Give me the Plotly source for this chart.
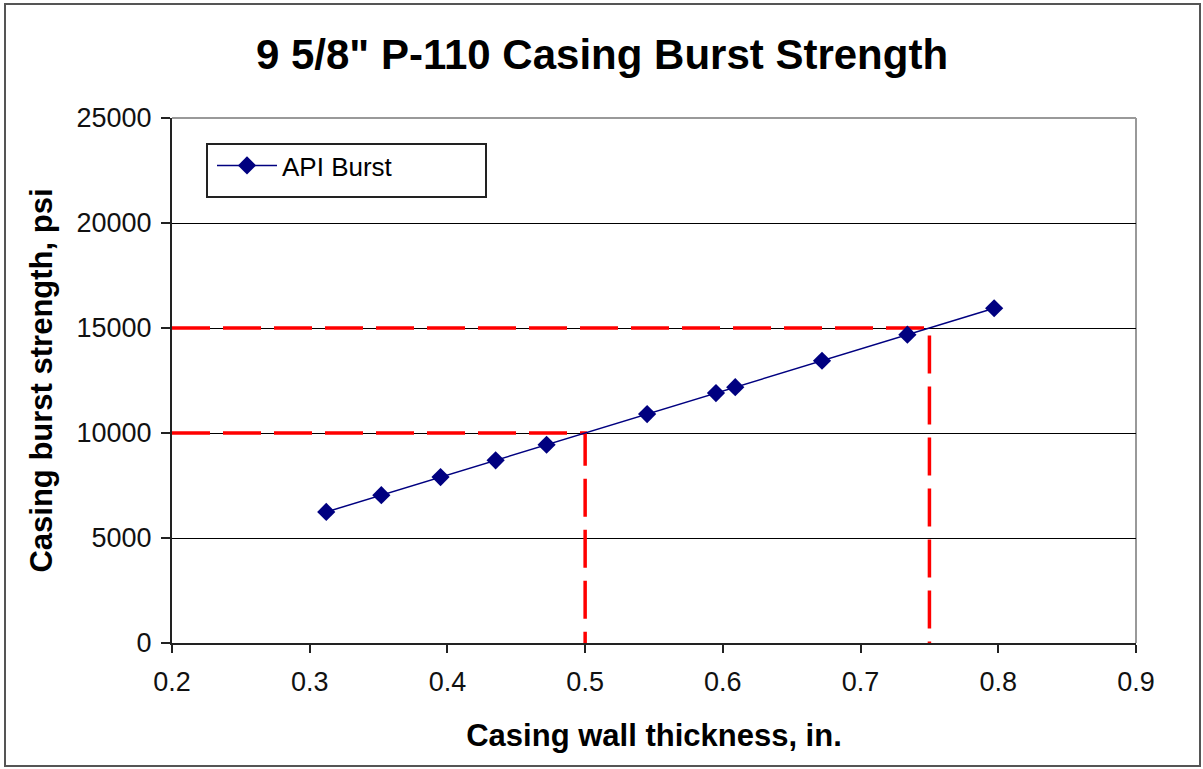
import plotly.graph_objects as go

# Data
wall_thickness = [0.312, 0.352, 0.395, 0.435, 0.472, 0.545, 0.595, 0.609, 0.672, 0.734, 0.797]
burst_psi = [6240, 7040, 7900, 8700, 9440, 10900, 11900, 12180, 13440, 14680, 15940]

# reference guide lines (thickness, burst)
guide_low = (0.5, 10000)
guide_high = (0.75, 15000)

x_ticks = [0.2, 0.3, 0.4, 0.5, 0.6, 0.7, 0.8, 0.9]
y_ticks = [0, 5000, 10000, 15000, 20000, 25000]

fig = go.Figure()

red = dict(color="#FF0000", width=3.5, dash="38px,13px")
for gx, gy in (guide_low, guide_high):
    fig.add_trace(go.Scatter(x=[0.2, gx, gx], y=[gy, gy, 0], mode="lines",
                             line=red, showlegend=False, hoverinfo="skip"))

fig.add_trace(go.Scatter(
    x=wall_thickness, y=burst_psi, mode="lines+markers", name="API Burst",
    line=dict(color="#000080", width=1.5),
    marker=dict(symbol="diamond", size=14, color="#000080"),
))

L, R, T, B = 172, 67, 118, 126
W, H = 1203, 769
pw, ph = W - L - R, H - T - B

def px(xp):
    return (xp - L) / pw

def py(yp):
    return (H - B - yp) / ph

fig.update_layout(
    width=W, height=H,
    margin=dict(l=L, r=R, t=T, b=B),
    paper_bgcolor="white", plot_bgcolor="white",
    font=dict(family="Liberation Sans, Arial, sans-serif", color="#111111"),
    title=dict(text="<b>9 5/8\" P-110 Casing Burst Strength</b>",
               x=px(602), xref="paper", xanchor="center", y=1 - 54 / H, yanchor="middle",
               font=dict(size=42, color="#000000")),
    showlegend=True,
    legend=dict(x=px(212), y=py(142), xanchor="left", yanchor="top",
                bgcolor="rgba(0,0,0,0)", borderwidth=0,
                font=dict(size=26, color="#000000"),
                itemwidth=60),
    xaxis=dict(range=[0.2, 0.9], tickvals=x_ticks, ticktext=[str(v) for v in x_ticks],
               showgrid=False, zeroline=False, showline=True, linecolor="#222222",
               linewidth=2, ticks="outside", ticklen=8, tickwidth=2, tickcolor="#222222",
               ticklabelstandoff=6,
               tickfont=dict(size=27, color="#111111"),
               title=dict(text="<b>Casing wall thickness, in.</b>", font=dict(size=31, color="#000000"),
                          standoff=28)),
    yaxis=dict(range=[0, 25000], tickvals=y_ticks, ticktext=[str(v) for v in y_ticks],
               showgrid=True, gridcolor="#000000", gridwidth=1.2, zeroline=False,
               showline=True, linecolor="#222222", linewidth=2, ticks="outside",
               ticklen=9, tickwidth=2, tickcolor="#222222", ticklabelstandoff=4,
               tickfont=dict(size=27, color="#111111"),
               title=dict(text="<b>Casing burst strength, psi</b>", font=dict(size=31, color="#000000"),
                          standoff=15)),
    shapes=[
        # gray plot border top/right
        dict(type="line", xref="paper", yref="paper", x0=0, x1=1, y0=1, y1=1,
             line=dict(color="#999999", width=2), layer="below"),
        dict(type="line", xref="paper", yref="paper", x0=1, x1=1, y0=0, y1=1,
             line=dict(color="#999999", width=2), layer="below"),
        # legend box
        dict(type="rect", xref="paper", yref="paper", x0=px(207), x1=px(486), y0=py(197), y1=py(144),
             line=dict(color="#222222", width=2), fillcolor="white", layer="below"),
        # outer frame
        dict(type="rect", xref="paper", yref="paper", x0=px(5), x1=px(1200), y0=py(766), y1=py(4),
             line=dict(color="#555555", width=2), fillcolor="rgba(0,0,0,0)"),
    ],
)

fig.write_html("out.html")
